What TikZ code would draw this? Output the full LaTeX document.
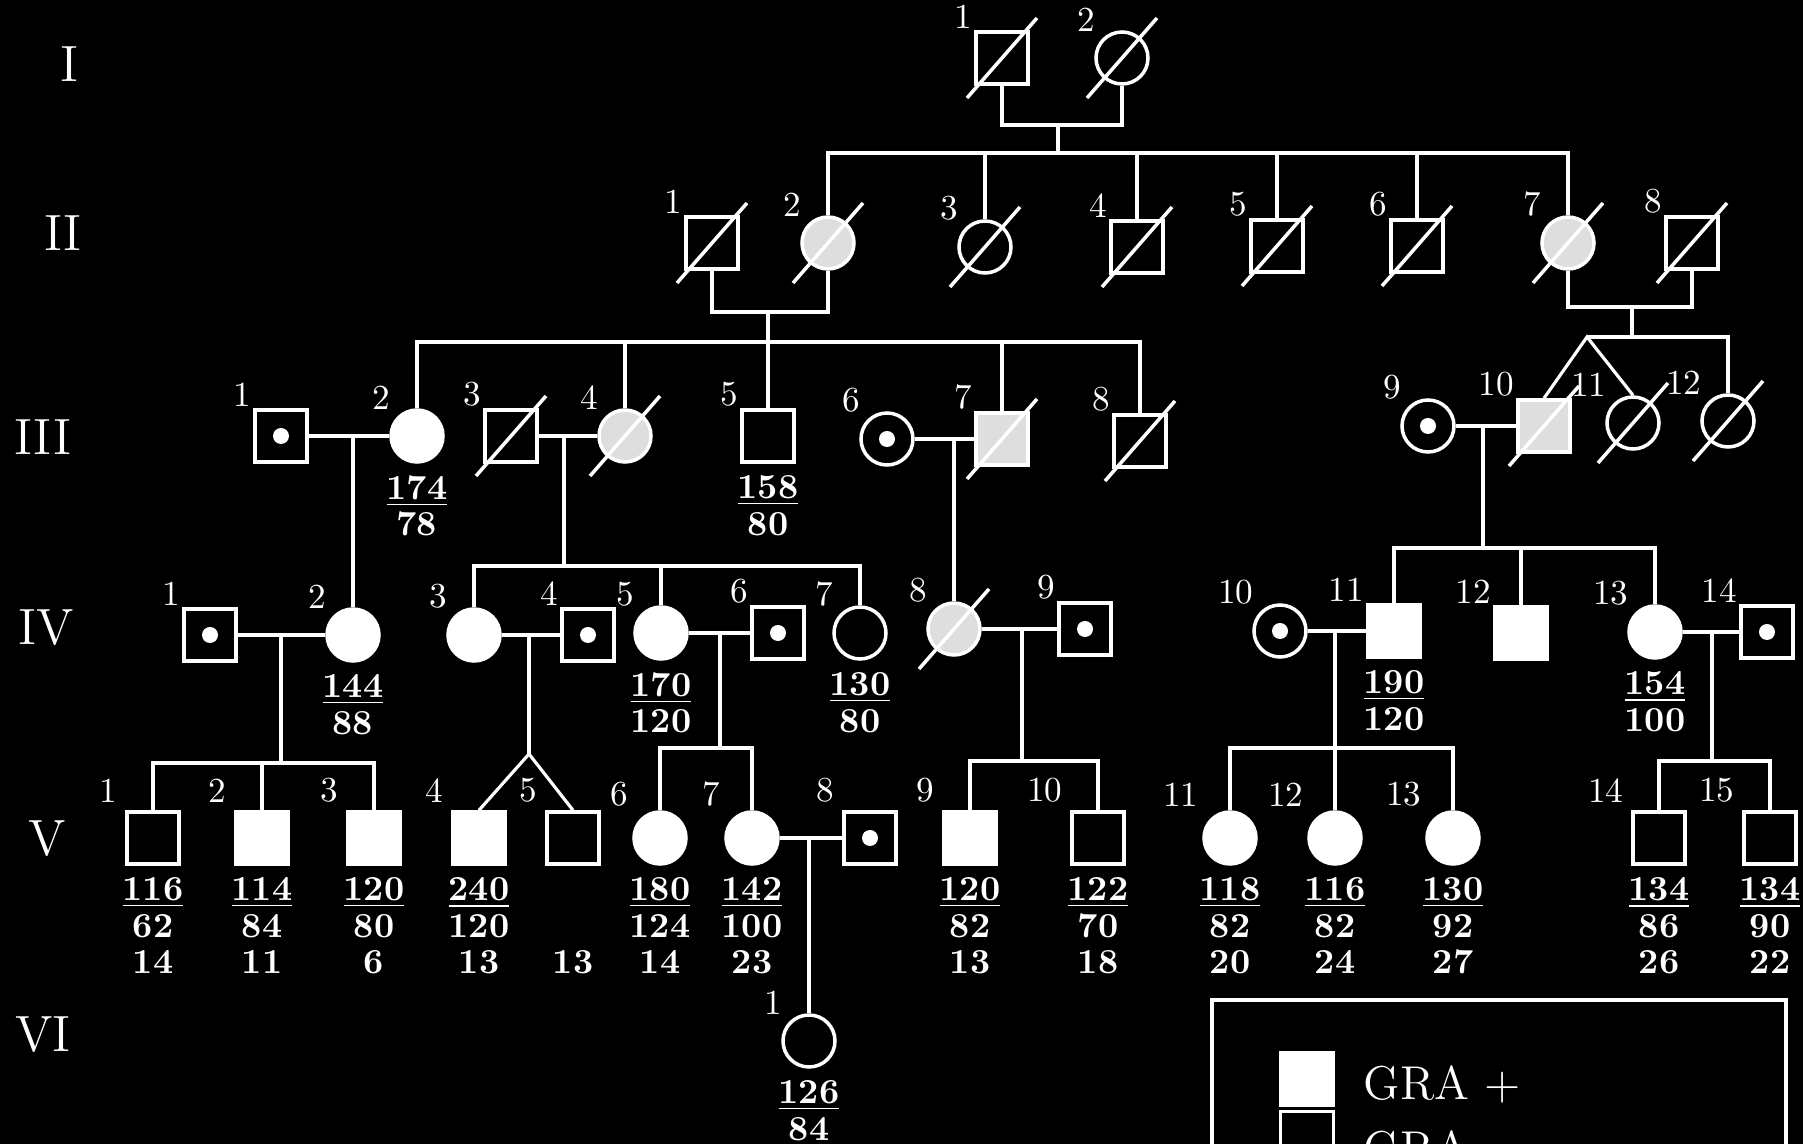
\documentclass[tikz,border=0pt]{standalone}
\usepackage{tikz}
\usetikzlibrary{calc,positioning}

\begin{document}
\begin{tikzpicture}[
	ind/.style={draw=white,line width=1pt,inner sep=0pt,fill=black},
	male/.style={ind,rectangle,minimum size=5.2mm},
	female/.style={ind,circle,minimum size=5.2mm},
	aff/.style={fill=white},
	sick/.style={fill=white!87!black},
	carrier/.style={path picture={\fill[white] (path picture bounding box.center) circle (0.8mm);}},
	idl/.style={text=white,inner sep=0pt,font=\fontsize{10}{12}\selectfont},
	maleid/.style={label={[idl,label distance=0.2mm]135:#1}},
	femid/.style={label={[idl,label distance=0.9mm]135:#1}},
	link/.style={draw=white,line width=0.9pt},
	slash/.style={draw=white,line width=1pt},
	data/.style={text=white,inner sep=0pt,align=center,font=\bfseries\fontsize{10}{10.4}\selectfont},
	gen/.style={text=white,font=\fontsize{14.5}{16}\selectfont},
	keytxt/.style={text=white,inner sep=0pt,font=\fontsize{13.5}{16}\selectfont}
	]
				%\draw[color=gray,step=10mm,help lines] (0,0) grid (180mm,-114mm); %help grid
				\useasboundingbox (0,0) rectangle (180.3mm,-114.4mm);
				\fill[black] (0,0) rectangle (180.3mm,-114.4mm);
				\clip (0,0) rectangle (180.3mm,-114.4mm);
				% generations
				\node[gen] (gI) at (6.9mm,-6.4mm) {I};
				\node[gen] (gII) at (6.3mm,-23.3mm) {II};
				\node[gen] (gIII) at (4.3mm,-43.7mm) {III};
				\node[gen] (gIV) at (4.6mm,-62.8mm) {IV};
				\node[gen] (gV) at (4.7mm,-83.9mm) {V};
				\node[gen] (gVI) at (4.3mm,-103.5mm) {VI};
				% I
				\node[male,maleid=1] (n1-1) at (100.2mm,-5.8mm) {};
				\node[female,femid=2] (n1-2) at (112.2mm,-5.8mm) {};
				% II
				\node[male,maleid=1] (n2-1) at (71.2mm,-24.3mm) {};
				\node[female,sick,femid=2] (n2-2) at (82.8mm,-24.3mm) {};
				\node[female,femid=3] (n2-3) at (98.5mm,-24.7mm) {};
				\node[male,maleid=4] (n2-4) at (113.7mm,-24.7mm) {};
				\node[male,maleid=5] (n2-5) at (127.7mm,-24.6mm) {};
				\node[male,maleid=6] (n2-6) at (141.7mm,-24.6mm) {};
				\node[female,sick,femid=7] (n2-7) at (156.8mm,-24.3mm) {};
				\node[male,maleid=8] (n2-8) at (169.2mm,-24.3mm) {};
				% III
				\node[male,carrier,maleid=1] (n3-1) at (28.1mm,-43.6mm) {};
				\node[female,aff,femid=2] (n3-2) at (41.7mm,-43.6mm) {};
				\node[male,maleid=3] (n3-3) at (51.1mm,-43.6mm) {};
				\node[female,sick,femid=4] (n3-4) at (62.5mm,-43.6mm) {};
				\node[male,maleid=5] (n3-5) at (76.8mm,-43.6mm) {};
				\node[female,carrier,femid=6] (n3-6) at (88.7mm,-43.9mm) {};
				\node[male,sick,maleid=7] (n3-7) at (100.2mm,-43.9mm) {};
				\node[male,maleid=8] (n3-8) at (114.0mm,-44.1mm) {};
				\node[female,carrier,femid=9] (n3-9) at (142.8mm,-42.6mm) {};
				\node[male,sick,maleid=10] (n3-10) at (154.4mm,-42.6mm) {};
				\node[female,femid=11] (n3-11) at (163.3mm,-42.3mm) {};
				\node[female,femid=12] (n3-12) at (172.8mm,-42.1mm) {};
				\node[data,below=1.1mm of n3-2] (d3-2) {\underline{174}\\78};
				\node[data,below=1.1mm of n3-5] (d3-5) {\underline{158}\\80};
				% IV
				\node[male,carrier,maleid=1] (n4-1) at (21.0mm,-63.5mm) {};
				\node[female,aff,femid=2] (n4-2) at (35.3mm,-63.5mm) {};
				\node[female,aff,femid=3] (n4-3) at (47.4mm,-63.5mm) {};
				\node[male,carrier,maleid=4] (n4-4) at (58.8mm,-63.5mm) {};
				\node[female,aff,femid=5] (n4-5) at (66.1mm,-63.3mm) {};
				\node[male,carrier,maleid=6] (n4-6) at (77.8mm,-63.3mm) {};
				\node[female,femid=7] (n4-7) at (86.0mm,-63.3mm) {};
				\node[female,sick,femid=8] (n4-8) at (95.4mm,-62.9mm) {};
				\node[male,carrier,maleid=9] (n4-9) at (108.5mm,-62.9mm) {};
				\node[female,carrier,femid=10] (n4-10) at (128.0mm,-63.1mm) {};
				\node[male,aff,maleid=11] (n4-11) at (139.4mm,-63.1mm) {};
				\node[male,aff,maleid=12] (n4-12) at (152.1mm,-63.3mm) {};
				\node[female,aff,femid=13] (n4-13) at (165.5mm,-63.2mm) {};
				\node[male,carrier,maleid=14] (n4-14) at (176.7mm,-63.2mm) {};
				\node[data,below=1.1mm of n4-2] (d4-2) {\underline{144}\\88};
				\node[data,below=1.1mm of n4-5] (d4-5) {\underline{170}\\120};
				\node[data,below=1.1mm of n4-7] (d4-7) {\underline{130}\\80};
				\node[data,below=1.1mm of n4-11] (d4-11) {\underline{190}\\120};
				\node[data,below=1.1mm of n4-13] (d4-13) {\underline{154}\\100};
				% V
				\begin{scope}[maleid/.style={label={[idl,label distance=1mm]135:#1}},
					femid/.style={label={[idl,label distance=1.6mm]135:#1}}]
				\node[male,maleid=1] (n5-1) at (15.3mm,-83.8mm) {};
				\node[male,aff,maleid=2] (n5-2) at (26.2mm,-83.8mm) {};
				\node[male,aff,maleid=3] (n5-3) at (37.4mm,-83.8mm) {};
				\node[male,aff,maleid=4] (n5-4) at (47.9mm,-83.8mm) {};
				\node[male,maleid=5] (n5-5) at (57.3mm,-83.8mm) {};
				\node[female,aff,femid=6] (n5-6) at (66.0mm,-83.8mm) {};
				\node[female,aff,femid=7] (n5-7) at (75.2mm,-83.8mm) {};
				\node[male,carrier,maleid=8] (n5-8) at (87.0mm,-83.8mm) {};
				\node[male,aff,maleid=9] (n5-9) at (97.0mm,-83.8mm) {};
				\node[male,maleid=10] (n5-10) at (109.8mm,-83.8mm) {};
				\node[female,aff,femid=11] (n5-11) at (123.0mm,-83.8mm) {};
				\node[female,aff,femid=12] (n5-12) at (133.5mm,-83.8mm) {};
				\node[female,aff,femid=13] (n5-13) at (145.3mm,-83.8mm) {};
				\node[male,maleid=14] (n5-14) at (165.9mm,-83.8mm) {};
				\node[male,maleid=15] (n5-15) at (177.0mm,-83.8mm) {};
				\end{scope}
				\node[data,below=1.1mm of n5-1] (d5-1) {\underline{116}\\62\\14};
				\node[data,below=1.1mm of n5-2] (d5-2) {\underline{114}\\84\\11};
				\node[data,below=1.1mm of n5-3] (d5-3) {\underline{120}\\80\\6};
				\node[data,below=1.1mm of n5-4] (d5-4) {\underline{240}\\120\\13};
				\node[data,anchor=south] (d5-5) at (n5-5 |- d5-4.south) {13};
				\node[data,below=1.1mm of n5-6] (d5-6) {\underline{180}\\124\\14};
				\node[data,below=1.1mm of n5-7] (d5-7) {\underline{142}\\100\\23};
				\node[data,below=1.1mm of n5-9] (d5-9) {\underline{120}\\82\\13};
				\node[data,below=1.1mm of n5-10] (d5-10) {\underline{122}\\70\\18};
				\node[data,below=1.1mm of n5-11] (d5-11) {\underline{118}\\82\\20};
				\node[data,below=1.1mm of n5-12] (d5-12) {\underline{116}\\82\\24};
				\node[data,below=1.1mm of n5-13] (d5-13) {\underline{130}\\92\\27};
				\node[data,below=1.1mm of n5-14] (d5-14) {\underline{134}\\86\\26};
				\node[data,below=1.1mm of n5-15] (d5-15) {\underline{134}\\90\\22};
				% VI
				\node[female,femid=1] (n6-1) at (80.9mm,-104.1mm) {};
				\node[data,below=1.1mm of n6-1] (d6-1) {\underline{126}\\84};
				% lines I-II
				\coordinate (m1) at (105.8mm,-12.5mm);
				\coordinate (s2) at (105.8mm,-15.3mm);
				\draw[link] (n1-1.south) |- (m1) -| (n1-2.south);
				\draw[link] (m1) -- (s2);
				\draw[link] (n2-2.north) |- (s2) -| (n2-7.north);
				\foreach \k in {3,...,6} \draw[link] (n2-\k |- s2) -- (n2-\k.north);
				% lines II-III
				\coordinate (m2a) at (76.8mm,-31.2mm);
				\coordinate (s3a) at (76.8mm,-34.2mm);
				\draw[link] (n2-1.south) |- (m2a) -| (n2-2.south);
				\draw[link] (m2a) -- (s3a);
				\draw[link] (n3-2.north) |- (s3a) -| (n3-8.north);
				\foreach \k in {4,5,7} \draw[link] (n3-\k |- s3a) -- (n3-\k.north);
				\coordinate (m2b) at (163.2mm,-30.7mm);
				\coordinate (s3b) at (163.2mm,-33.7mm);
				\coordinate (t3) at (158.7mm,-33.7mm);
				\draw[link] (n2-7.south) |- (m2b) -| (n2-8.south);
				\draw[link] (m2b) -- (s3b);
				\draw[link] (t3) -| (n3-12.north);
				\draw[link] (n3-10.north) -- (t3) -- (n3-11.north);
				% lines III-IV
				\coordinate (m3a) at (35.3mm,-43.6mm);
				\draw[link] (n3-1) -- (n3-2);
				\draw[link] (m3a) -- (n4-2);
				\coordinate (m3b) at (56.4mm,-43.6mm);
				\coordinate (s4a) at (56.4mm,-56.6mm);
				\draw[link] (n3-3) -- (n3-4);
				\draw[link] (m3b) -- (s4a);
				\draw[link] (n4-3.north) |- (s4a) -| (n4-7.north);
				\draw[link] (n4-5 |- s4a) -- (n4-5.north);
				\coordinate (m3c) at (95.4mm,-43.9mm);
				\draw[link] (n3-6) -- (n3-7);
				\draw[link] (m3c) -- (n4-8);
				\coordinate (m3d) at (148.3mm,-42.6mm);
				\coordinate (s4b) at (148.3mm,-54.8mm);
				\draw[link] (n3-9) -- (n3-10);
				\draw[link] (m3d) -- (s4b);
				\draw[link] (n4-11.north) |- (s4b) -| (n4-13.north);
				\draw[link] (n4-12 |- s4b) -- (n4-12.north);
				% lines IV-V
				\coordinate (m4a) at (28.1mm,-63.5mm);
				\coordinate (s5a) at (28.1mm,-76.3mm);
				\draw[link] (n4-1) -- (n4-2);
				\draw[link] (m4a) -- (s5a);
				\draw[link] (n5-1.north) |- (s5a) -| (n5-3.north);
				\draw[link] (n5-2 |- s5a) -- (n5-2.north);
				\coordinate (m4b) at (52.9mm,-63.5mm);
				\coordinate (t5) at (52.9mm,-75.4mm);
				\draw[link] (n4-3) -- (n4-4);
				\draw[link] (m4b) -- (t5);
				\draw[link] (n5-4.north) -- (t5) -- (n5-5.north);
				\coordinate (m4c) at (72.0mm,-63.3mm);
				\coordinate (s5c) at (72.0mm,-74.8mm);
				\draw[link] (n4-5) -- (n4-6);
				\draw[link] (m4c) -- (s5c);
				\draw[link] (n5-6.north) |- (s5c) -| (n5-7.north);
				\coordinate (m4d) at (102.2mm,-62.9mm);
				\coordinate (s5d) at (102.2mm,-76.1mm);
				\draw[link] (n4-8) -- (n4-9);
				\draw[link] (m4d) -- (s5d);
				\draw[link] (n5-9.north) |- (s5d) -| (n5-10.north);
				\coordinate (m4e) at (133.5mm,-63.1mm);
				\coordinate (s5e) at (133.5mm,-74.8mm);
				\draw[link] (n4-10) -- (n4-11);
				\draw[link] (m4e) -- (n5-12);
				\draw[link] (n5-11.north) |- (s5e) -| (n5-13.north);
				\coordinate (m4f) at (171.2mm,-63.2mm);
				\coordinate (s5f) at (171.2mm,-76.1mm);
				\draw[link] (n4-13) -- (n4-14);
				\draw[link] (m4f) -- (s5f);
				\draw[link] (n5-14.north) |- (s5f) -| (n5-15.north);
				% lines V-VI
				\coordinate (m5) at (80.9mm,-83.8mm);
				\draw[link] (n5-7) -- (n5-8);
				\draw[link] (m5) -- (n6-1);
				% deceased
				\foreach \n in {n1-1,n1-2,n2-1,n2-2,n2-3,n2-4,n2-5,n2-6,n2-7,n2-8,n3-3,n3-4,n3-7,n3-8,n3-10,n3-11,n3-12,n4-8}
					\draw[slash] (\n.center) ++(-3.5mm,-4mm) -- ++(7mm,8mm);
				% key
				\draw[white,line width=1pt] (121.2mm,-100mm) rectangle (178.6mm,-120mm);
				\node[male,aff,minimum size=5.3mm] (k1) at (130.7mm,-107.9mm) {};
				\node[male,minimum size=5.3mm] (k2) at (130.7mm,-113.8mm) {};
				\node[keytxt,anchor=base west] (k1t) at (136.3mm,-110.0mm) {GRA +};
				\node[keytxt,anchor=base west] (k2t) at (136.3mm,-116.5mm) {GRA --};
\end{tikzpicture}
\end{document}
